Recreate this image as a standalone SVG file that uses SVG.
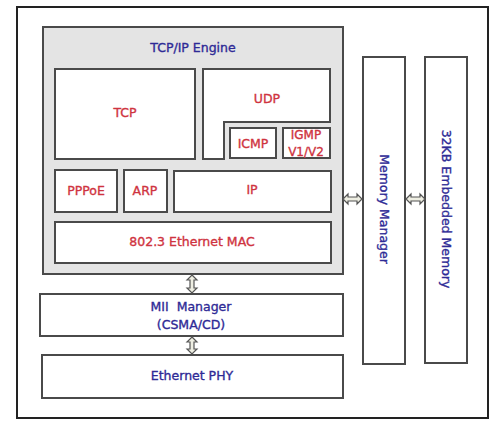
<svg xmlns="http://www.w3.org/2000/svg" width="500" height="423" viewBox="0 0 500 423">
<style>
.box{fill:#fff;stroke:#4a4a4a;stroke-width:2}
.eng{fill:#e4e4e4;stroke:#4a4a4a;stroke-width:2}
.arr{fill:#eeeee2;stroke:#555;stroke-width:1.2}
text{font-family:"DejaVu Sans","Liberation Sans",sans-serif;font-size:12.5px;text-anchor:middle;dominant-baseline:central;stroke-width:0.35}
.r{fill:#cf3340;stroke:#cf3340}
.b{fill:#2e2a96;stroke:#2e2a96}
.s{font-size:12px}
</style>
<rect x="0" y="0" width="500" height="423" fill="#fff"/>
<rect id="frame" x="17" y="7" width="471" height="411" fill="#fff" stroke="#222" stroke-width="2"/>
<g id="tcpip-engine">
<rect class="eng" x="43" y="27" width="300" height="247"/>
<text class="b" x="193" y="47">TCP/IP Engine</text>
</g>
<g id="tcp"><rect class="box" x="55" y="69" width="140" height="90"/><text class="r" x="125" y="112">TCP</text></g>
<g id="udp"><path class="box" d="M203,69 H330 V122 H224 V159 H203 Z"/><text class="r" x="267" y="98">UDP</text></g>
<g id="icmp"><rect class="box" x="230" y="128" width="46" height="30"/><text class="r" x="253" y="143">ICMP</text></g>
<g id="igmp"><rect class="box" x="283" y="128" width="47" height="30"/><text class="r s" x="306" y="135">IGMP</text><text class="r s" x="306" y="152">V1/V2</text></g>
<g id="pppoe"><rect class="box" x="55" y="170" width="62" height="42"/><text class="r" x="86" y="190">PPPoE</text></g>
<g id="arp"><rect class="box" x="124" y="170" width="43" height="42"/><text class="r" x="145" y="190">ARP</text></g>
<g id="ip"><rect class="box" x="174" y="171" width="157" height="41"/><text class="r" x="252" y="189">IP</text></g>
<g id="mac"><rect class="box" x="55" y="222" width="276" height="41"/><text class="r" x="192" y="241">802.3 Ethernet MAC</text></g>
<g id="mii"><rect class="box" x="40" y="294" width="303" height="42"/><text class="b" x="191" y="306" style="white-space:pre">MII  Manager</text><text class="b" x="191" y="324">(CSMA/CD)</text></g>
<g id="phy"><rect class="box" x="42" y="355" width="301" height="43"/><text class="b" x="192" y="375">Ethernet PHY</text></g>
<g id="memory-manager"><rect class="box" x="363" y="57" width="42" height="307"/><text class="b" transform="translate(384,209) rotate(90)" x="0" y="0">Memory Manager</text></g>
<g id="embedded-memory"><rect class="box" x="425" y="57" width="42" height="306"/><text class="b" transform="translate(446,209) rotate(90)" x="0" y="0">32KB Embedded Memory</text></g>
<g id="connectors">
<polygon class="arr" points="343,199 348,194 348,197 357,197 357,194 362,199 357,204 357,201 348,201 348,204"/>
<polygon class="arr" points="406,199 411,194 411,197 420,197 420,194 425,199 420,204 420,201 411,201 411,204"/>
<polygon class="arr" points="192,275 197,280 194,280 194,288 197,288 192,293 187,288 190,288 190,280 187,280"/>
<polygon class="arr" points="192,337 197,342 194,342 194,349 197,349 192,354 187,349 190,349 190,342 187,342"/>
</g>
</svg>
